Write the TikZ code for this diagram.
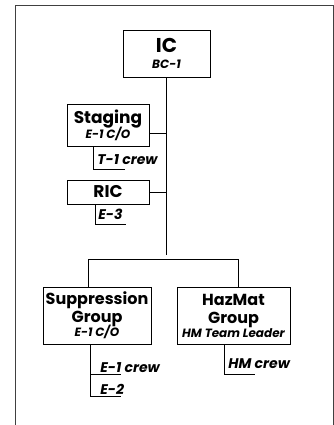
\documentclass[tikz,border=0pt]{standalone}
\usepackage{fontspec}
\setmainfont{Poppins}
\newcommand{\subline}[1]{{\fontsize{12}{14}\selectfont\itshape #1}}
\begin{document}
\begin{tikzpicture}[x=1pt,y=-1pt,line width=0.8pt,
  unitbox/.style={draw,inner sep=0pt,align=center,font=\bfseries\fontsize{16}{18}\selectfont},
  crewtext/.style={anchor=base west,inner sep=0pt,font=\bfseries\itshape\fontsize{14}{16}\selectfont}]
\useasboundingbox (0,0) rectangle (334,425);
% frame
\draw[line width=0.9pt,black!75] (15,425) -- (15,5) -- (333,5) -- (333,425);
% command
\node[unitbox,font=\bfseries\fontsize{20}{16}\selectfont,minimum width=87pt,minimum height=47pt] (ic) at (166.5,53.5)
  {IC\\\subline{BC-1}};
% staging and RIC
\node[unitbox,font=\bfseries\fontsize{17}{18}\selectfont,minimum width=82pt,minimum height=42pt] (stg) at (108,125)
  {Staging\\[-3pt]\subline{E-1 C/O}};
\node[unitbox,font=\bfseries\fontsize{17}{18}\selectfont,minimum width=82pt,minimum height=24pt] (ric) at (108,192) {RIC};
% groups
\node[unitbox,minimum width=108pt,minimum height=57pt] (sup) at (97,315.5)
  {Suppression\\Group\\[-4pt]\subline{E-1 C/O}};
\node[unitbox,minimum width=113pt,minimum height=57pt] (hzm) at (233.5,315.5)
  {HazMat\\Group\\[-4pt]\subline{HM Team Leader}};
% crews
\node[crewtext] (t1) at (97,164) {T-1 crew};
\node[crewtext] (e3) at (98,219) {E-3};
\node[crewtext] (e1) at (100,372) {E-1 crew};
\node[crewtext] (e2) at (100,394) {E-2};
\node[crewtext] (hmc) at (228,368) {HM crew};
\coordinate (trunk) at (167,255);
\coordinate (barl) at (88,259);
\coordinate (barr) at (238,259);
% trunk and branches
\draw (ic.south) -- (ic.south |- trunk);
\draw (stg.east |- 0,133) -- (ic.south |- 0,133);
\draw (ric.east) -- (ic.south |- ric.east);
\draw (barl) -- (barr);
\draw (barl) -- (barl |- sup.north);
\draw (barr) -- (barr |- hzm.north);
% crew brackets
\draw (93,0 |- stg.south) -- (93,169) -- (125,169);
\draw (95,0 |- ric.south) -- (95,224) -- (126,224);
\draw (90,0 |- sup.south) -- (90,396) -- (121,396);
\draw (90,374) -- (121,374);
\draw (224,0 |- hzm.south) -- (224,374) -- (255,374);
\end{tikzpicture}
\end{document}
